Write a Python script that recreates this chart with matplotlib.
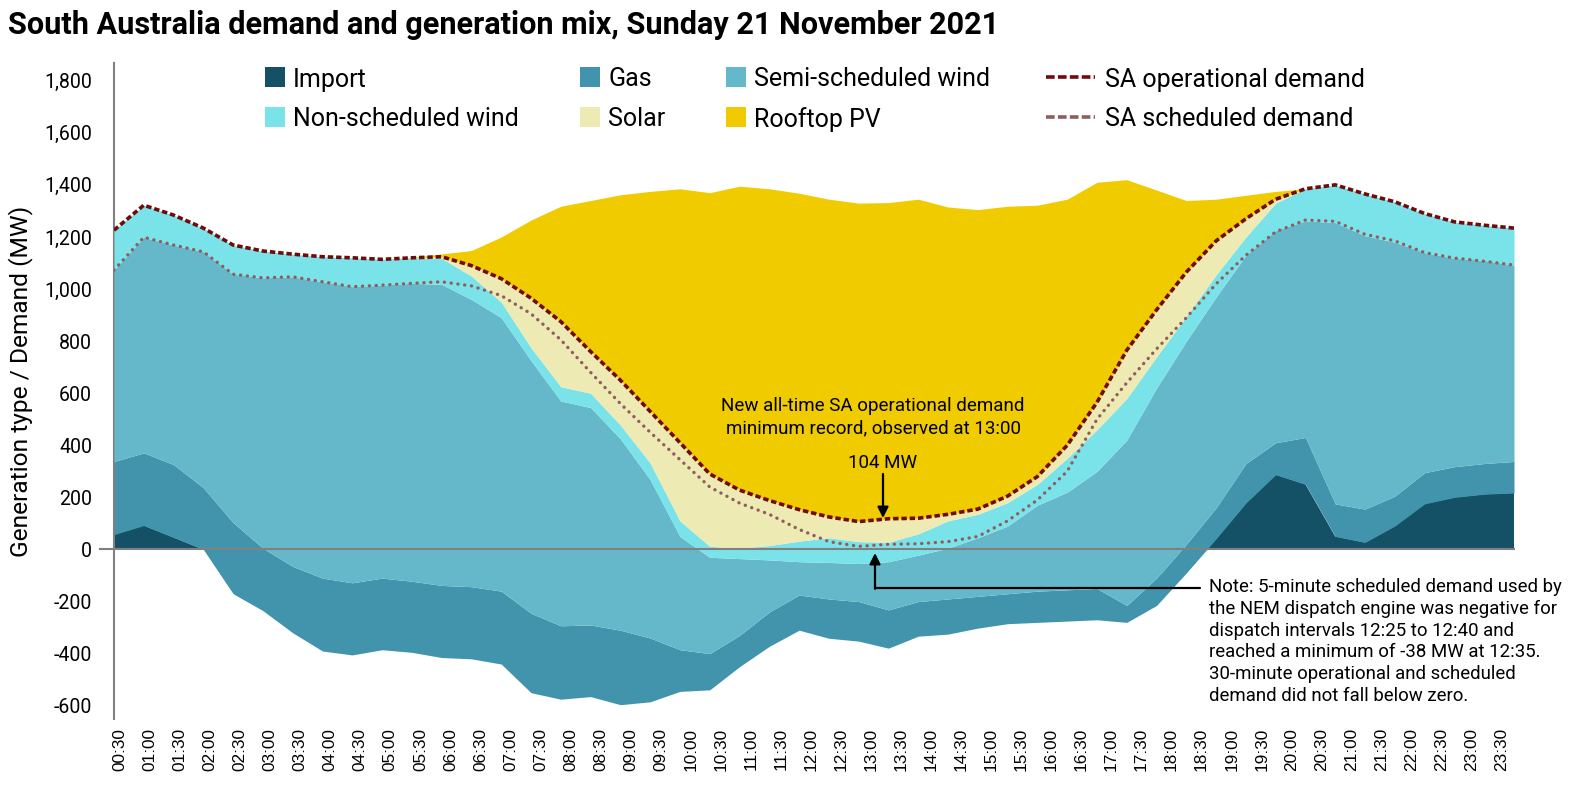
import numpy as np
import matplotlib
matplotlib.use("Agg")
import matplotlib.pyplot as plt
from matplotlib.patches import Rectangle
from matplotlib.lines import Line2D

W, H = 1585, 802

# half-hourly points, 00:30 .. 24:00
time_labels = ['00:30', '01:00', '01:30', '02:00', '02:30', '03:00', '03:30', '04:00',
               '04:30', '05:00', '05:30', '06:00', '06:30', '07:00', '07:30', '08:00',
               '08:30', '09:00', '09:30', '10:00', '10:30', '11:00', '11:30', '12:00',
               '12:30', '13:00', '13:30', '14:00', '14:30', '15:00', '15:30', '16:00',
               '16:30', '17:00', '17:30', '18:00', '18:30', '19:00', '19:30', '20:00',
               '20:30', '21:00', '21:30', '22:00', '22:30', '23:00', '23:30']

import_mw = [57, 92, 46, 0, -170, -235, -320, -390, -405, -385, -395, -415,
             -420, -440, -550, -575, -565, -596, -585, -545, -539, -450, -372, -310,
             -341, -352, -379, -333, -325, -302, -285, -280, -275, -270, -280, -215,
             -90, 41, 178, 287, 250, 50, 27, 90, 175, 200, 212, 217]
gas_mw = [281, 279, 280, 237, 273, 240, 255, 280, 277, 275, 273, 277,
          277, 280, 305, 282, 275, 286, 245, 160, 139, 120, 132, 135,
          151, 152, 147, 133, 135, 122, 115, 120, 120, 120, 65, 105,
          110, 119, 152, 123, 180, 125, 128, 115, 120, 118, 118, 121]
semi_wind_mw = [735, 828, 843, 906, 954, 1038, 1112, 1138, 1137, 1125, 1144, 1156,
                1103, 1050, 970, 863, 835, 735, 608, 435, 370, 295, 200, 128,
                140, 146, 185, 178, 195, 225, 260, 330, 375, 450, 635, 730,
                780, 810, 800, 815, 832, 1080, 1050, 975, 845, 800, 780, 754]
nonsched_wind_mw = [153, 123, 115, 91, 112, 103, 87, 96, 111, 99, 98, 100,
                    90, 60, 50, 55, 55, 53, 64, 60, 42, 40, 55, 79,
                    95, 84, 75, 82, 105, 90, 90, 80, 130, 160, 160, 120,
                    95, 85, 70, 105, 123, 145, 160, 155, 150, 140, 135, 142]
solar_mw = [0, 0, 0, 0, 0, 0, 0, 0, 0, 0, 0, 6,
            40, 90, 190, 250, 160, 172, 198, 300, 278, 223, 173, 121,
            80, 77, 90, 60, 25, 20, 25, 30, 50, 105, 185, 180,
            170, 130, 70, 15, 0, 0, 0, 0, 0, 0, 0, 0]
rooftop_mw = [0, 0, 0, 0, 0, 0, 0, 0, 0, 0, 2, 11,
              58, 160, 300, 443, 580, 712, 845, 975, 1080, 1167, 1197, 1215,
              1220, 1223, 1214, 1225, 1180, 1150, 1113, 1042, 945, 845, 655, 460,
              275, 160, 90, 30, 0, 0, 0, 0, 0, 0, 0, 0]
op_demand = [1226, 1322, 1284, 1234, 1169, 1146, 1134, 1124, 1120, 1114, 1120, 1124,
             1090, 1040, 965, 875, 760, 650, 530, 410, 290, 228, 188, 153,
             125, 107, 118, 120, 135, 155, 205, 280, 400, 565, 765, 920,
             1065, 1185, 1270, 1345, 1385, 1400, 1365, 1335, 1290, 1258, 1245, 1234]
sched_demand = [1073, 1199, 1169, 1143, 1057, 1043, 1047, 1028, 1009, 1015, 1022, 1028,
                1012, 975, 905, 805, 680, 560, 450, 345, 240, 178, 135, 77,
                30, 12, 20, 22, 30, 50, 110, 190, 300, 500, 640, 770,
                890, 1020, 1130, 1220, 1265, 1260, 1210, 1185, 1140, 1119, 1107, 1092]

y_ticks = [-600, -400, -200, 0, 200, 400, 600, 800, 1000, 1200, 1400, 1600, 1800]

names = ['Import', 'Gas', 'Semi-scheduled wind', 'Non-scheduled wind', 'Solar', 'Rooftop PV']
colors = ['#145066', '#4294ad', '#64b8c9', '#7ae3ea', '#eeeab4', '#f0cb00']
op_color = '#720a0a'
sched_color = '#8e5e5e'
grey = '#808080'

plt.rcParams['font.family'] = ['Roboto', 'DejaVu Sans']

fig = plt.figure(figsize=(W / 100, H / 100), dpi=100)
ax = fig.add_axes([114 / W, 1 - 719 / H, 1400 / W, 656 / H])
renderer = fig.canvas.get_renderer()


def fit(t, target, use_height=False):
    bb = t.get_window_extent(renderer=renderer)
    cur = bb.height if use_height else bb.width
    t.set_fontsize(t.get_fontsize() * target / cur)
    return t.get_fontsize()


x = np.arange(len(import_mw))
layers = np.array([import_mw, gas_mw, semi_wind_mw, nonsched_wind_mw, solar_mw, rooftop_mw], dtype=float)
tops = np.cumsum(layers, axis=0)
bots = np.vstack([np.zeros(len(x)), tops[:-1]])

# exports (negative import) are not drawn; the other layers start from the import level
imp = layers[0]
ax.fill_between(x, 0, imp, where=imp >= 0, interpolate=True, color=colors[0], lw=0, zorder=1)
for i in range(1, len(layers)):
    ax.fill_between(x, bots[i], tops[i], color=colors[i], lw=0, zorder=1 + i)

ax.axhline(0, xmin=-0.01, xmax=1, color=grey, lw=1.5, clip_on=False, zorder=8)
ax.plot(x, sched_demand, color=sched_color, lw=2.4, dashes=(0.05, 2.0),
        dash_capstyle='round', zorder=9)
ax.plot(x, op_demand, color=op_color, lw=2.6, dashes=(1.5, 0.8), zorder=10)

ax.set_xlim(0, len(x) - 1)
ax.set_ylim(-651, 1868)
for s in ['top', 'right', 'bottom']:
    ax.spines[s].set_visible(False)
ax.spines['left'].set_color(grey)
ax.spines['left'].set_linewidth(1.5)

# y axis
tmp = fig.text(0, 0, '1,800', fontsize=12)
ysize = fit(tmp, 47.5)
tmp.remove()
ax.set_yticks(y_ticks)
ax.set_yticklabels([f'{v:,}' for v in y_ticks])
ax.tick_params(axis='y', length=0, pad=15.8, labelsize=ysize)

# x axis (labels sit slightly right of the data points in the original)
tmp = fig.text(0, 0, '00:30', fontsize=12, family='Liberation Sans', rotation=90)
xsize = fit(tmp, 43, use_height=True)
tmp.remove()
ax.set_xticks(np.linspace(0.2, 46.6, len(time_labels)))
ax.set_xticklabels(time_labels, rotation=90, family='Liberation Sans')
ax.tick_params(axis='x', length=0, pad=6.5, labelsize=xsize)

ylab = fig.text(21 / W, 1 - 381 / H, 'Generation type / Demand (MW)', rotation=90,
                ha='center', va='center', fontsize=16)
fit(ylab, 351, use_height=True)

# title
title = fig.text(8 / W, 1 - 34 / H, 'South Australia demand and generation mix, Sunday 21 November 2021',
                 ha='left', va='baseline', fontsize=22, fontweight='bold')
fit(title, 991)

# legend drawn by hand to keep the original spacing
tmp = fig.text(0, 0, 'Semi-scheduled wind', fontsize=16)
lsize = fit(tmp, 237)
tmp.remove()
legend_cols = [265, 580, 726]
legend_rows = [(67, 86.5), (107, 126.5)]
legend_order = [[0, 3], [1, 4], [2, 5]]
for c, col_x in enumerate(legend_cols):
    for r, idx in enumerate(legend_order[c]):
        top, base = legend_rows[r]
        fig.add_artist(Rectangle((col_x / W, 1 - (top + 20) / H), 20 / W, 20 / H,
                                 transform=fig.transFigure, color=colors[idx], lw=0))
        fig.text((col_x + 28) / W, 1 - base / H, names[idx], fontsize=lsize, va='baseline')

for ly, base, lab, col in [(76.5, 86.5, 'SA operational demand', op_color),
                           (116.5, 126.5, 'SA scheduled demand', sched_color)]:
    fig.add_artist(Line2D([1046 / W, 1095 / W], [1 - ly / H, 1 - ly / H], transform=fig.transFigure,
                          color=col, lw=2.6, dashes=(2.4, 0.9), dash_capstyle='butt'))
    fig.text(1105 / W, 1 - base / H, lab, fontsize=lsize, va='baseline')

# annotations
a1 = fig.text(873 / W, 1 - 406 / H, 'New all-time SA operational demand', ha='center',
              va='center', fontsize=13)
asize = fit(a1, 303)
fig.text(873 / W, 1 - 428 / H, 'minimum record, observed at 13:00', ha='center', va='center',
         fontsize=asize)
fig.text(883 / W, 1 - 463 / H, '104 MW', ha='center', va='center', fontsize=asize)
ax.annotate('', xy=(883, H - 518), xytext=(883, H - 474), xycoords='figure pixels',
            arrowprops=dict(arrowstyle='-|>', color='black', lw=1.6, mutation_scale=16,
                            shrinkA=0, shrinkB=0), zorder=20)

ax.annotate('', xy=(875, H - 588), xytext=(1200, H - 588), xycoords='figure pixels',
            arrowprops=dict(arrowstyle='-', color='black', lw=1.6, shrinkA=0, shrinkB=0), zorder=20)
ax.annotate('', xy=(875, H - 553), xytext=(875, H - 588.8), xycoords='figure pixels',
            arrowprops=dict(arrowstyle='-|>', color='black', lw=1.6, mutation_scale=16,
                            shrinkA=0, shrinkB=0), zorder=20)

note_lines = ['Note: 5-minute scheduled demand used by',
              'the NEM dispatch engine was negative for',
              'dispatch intervals 12:25 to 12:40 and',
              'reached a minimum of -38 MW at 12:35.',
              '30-minute operational and scheduled',
              'demand did not fall below zero.']
n0 = fig.text(1209 / W, 1 - 587 / H, note_lines[0], ha='left', va='center', fontsize=13)
nsize = fit(n0, 354)
for i, line in enumerate(note_lines[1:], start=1):
    fig.text(1209 / W, 1 - (587 + 21.8 * i) / H, line, ha='left', va='center', fontsize=nsize)

fig.savefig('out.png', dpi=100)
